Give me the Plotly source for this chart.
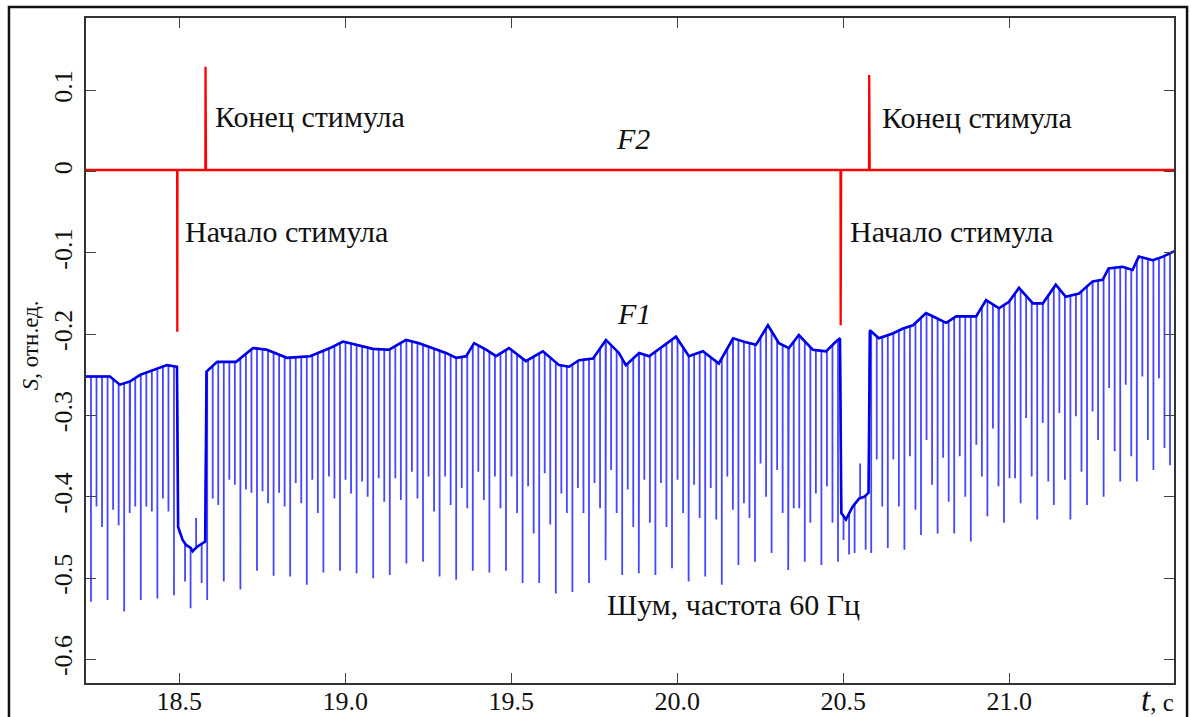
import numpy as np
import plotly.graph_objects as go

# ---------------- data ----------------
# F1: slow component (upper envelope of the blue trace)
f1_base_t = [18.219, 18.291, 18.321, 18.352, 18.382, 18.421, 18.463, 18.493,
             18.4965, 18.510, 18.520, 18.535, 18.540, 18.555, 18.570, 18.578,
             18.582, 18.614, 18.671, 18.722, 18.764, 18.824, 18.894, 18.954, 18.993, 19.034,
             19.083, 19.132, 19.183, 19.222, 19.264, 19.303, 19.334, 19.364, 19.388, 19.424,
             19.454, 19.493, 19.544, 19.595, 19.644, 19.674, 19.704, 19.746, 19.785, 19.824,
             19.845, 19.885, 19.915, 19.957, 19.996, 20.035, 20.077, 20.125, 20.168, 20.207,
             20.237, 20.273, 20.306, 20.336, 20.366, 20.408, 20.448, 20.478, 20.490,
             20.494, 20.508, 20.528, 20.548, 20.563, 20.576,
             20.580, 20.607, 20.649, 20.680, 20.710, 20.749, 20.780, 20.810, 20.840, 20.900,
             20.930, 20.969, 20.999, 21.029, 21.071, 21.101, 21.140, 21.170, 21.210, 21.251,
             21.281, 21.299, 21.341, 21.371, 21.390, 21.432, 21.463, 21.496]
f1_base_v = [-0.252, -0.252, -0.262, -0.258, -0.250, -0.244, -0.238, -0.240,
             -0.437, -0.453, -0.459, -0.463, -0.467, -0.461, -0.457, -0.455,
             -0.246, -0.234, -0.234, -0.217, -0.219, -0.229, -0.227, -0.217, -0.209, -0.213,
             -0.218, -0.219, -0.207, -0.211, -0.217, -0.223, -0.229, -0.227, -0.211, -0.219,
             -0.227, -0.217, -0.233, -0.221, -0.238, -0.240, -0.232, -0.230, -0.207, -0.223,
             -0.238, -0.223, -0.227, -0.215, -0.203, -0.227, -0.221, -0.236, -0.205, -0.210,
             -0.213, -0.189, -0.211, -0.217, -0.201, -0.219, -0.221, -0.209, -0.205,
             -0.420, -0.428, -0.412, -0.402, -0.400, -0.395,
             -0.195, -0.205, -0.199, -0.193, -0.189, -0.174, -0.180, -0.186, -0.178, -0.178,
             -0.158, -0.168, -0.160, -0.143, -0.162, -0.162, -0.139, -0.154, -0.150, -0.135,
             -0.133, -0.119, -0.117, -0.121, -0.1045, -0.109, -0.1045, -0.098]

# F1: 60 Hz mains-noise spikes (extreme value of each spike)
spike_t0 = 18.234      # time of first spike, s
spike_rate = 60.0      # Hz
f1_spike_v = [
    -0.529, -0.412, -0.437, -0.527, -0.416, -0.435, -0.541, -0.420, -0.412, -0.527,
    -0.412, -0.418, -0.525, -0.402, -0.418, -0.521, -0.445, -0.504, -0.537, -0.426,
    -0.506, -0.527, -0.402, -0.410, -0.504, -0.379, -0.385, -0.514, -0.391, -0.395,
    -0.491, -0.393, -0.408, -0.497, -0.395, -0.412, -0.498, -0.383, -0.408,
    -0.508, -0.379, -0.420, -0.493, -0.375, -0.402, -0.491, -0.379, -0.396, -0.494,
    -0.381, -0.400, -0.500, -0.377, -0.406, -0.496, -0.377, -0.404, -0.482, -0.369,
    -0.402, -0.480, -0.375, -0.418, -0.498, -0.375, -0.410, -0.502, -0.389, -0.414,
    -0.491, -0.369, -0.404, -0.493, -0.375, -0.414, -0.491, -0.375, -0.420, -0.506,
    -0.387, -0.445, -0.506, -0.371, -0.434, -0.519, -0.396, -0.420, -0.517, -0.389,
    -0.420, -0.506, -0.383, -0.414, -0.478, -0.367, -0.420, -0.496, -0.391, -0.437,
    -0.494, -0.379, -0.432, -0.496, -0.383, -0.437, -0.488, -0.379, -0.420, -0.504,
    -0.385, -0.426, -0.498, -0.389, -0.428, -0.508, -0.375, -0.416, -0.484, -0.408,
    -0.426, -0.480, -0.359, -0.400, -0.469, -0.367, -0.420, -0.490, -0.414, -0.414,
    -0.480, -0.432, -0.396, -0.484, -0.387, -0.432, -0.480, -0.453, -0.471, -0.469,
    -0.359, -0.465, -0.469, -0.354, -0.412, -0.463, -0.354, -0.412, -0.465, -0.350,
    -0.416, -0.447, -0.330, -0.385, -0.445, -0.352, -0.406, -0.445, -0.350, -0.400,
    -0.455, -0.336, -0.375, -0.424, -0.316, -0.387, -0.432, -0.377, -0.377, -0.408,
    -0.303, -0.375, -0.428, -0.309, -0.381, -0.410, -0.297, -0.379, -0.428, -0.301,
    -0.369, -0.410, -0.295, -0.330, -0.400, -0.266, -0.344, -0.381, -0.262, -0.350,
    -0.381, -0.252, -0.330, -0.367, -0.254, -0.340, -0.361, -0.248]

# F2 (red): flat trace with stimulus start / end artefacts
f2_t = [18.219, 18.4935, 18.494, 18.4945, 18.5785, 18.579, 18.580, 18.5805,
        20.4915, 20.492, 20.493, 20.4935, 20.5775, 20.578, 20.579, 20.5795, 21.496]
f2_v = [0.002, 0.002, -0.197, 0.002, 0.002, 0.129, 0.097, 0.002,
        0.002, -0.189, -0.094, 0.002, 0.002, 0.119, 0.092, 0.002, 0.002]

x_ticks = [18.5, 19.0, 19.5, 20.0, 20.5, 21.0]
x_ticktext = ["18.5", "19.0", "19.5", "20.0", "20.5", "21.0"]
y_ticks = [0.1, 0.0, -0.1, -0.2, -0.3, -0.4, -0.5, -0.6]
y_ticktext = ["0.1", "0", "-0.1", "-0.2", "-0.3", "-0.4", "-0.5", "-0.6"]

# ---------------- build F1 polyline ----------------
spike_t = spike_t0 + np.arange(len(f1_spike_v)) / spike_rate
spike_top = np.interp(spike_t, f1_base_t, f1_base_v)
events = [(t, 0, v) for t, v in zip(f1_base_t, f1_base_v)]
for t, top, bot in zip(spike_t, spike_top, f1_spike_v):
    events += [(t, 1, top), (t, 2, bot), (t, 3, top)]
events.sort(key=lambda e: (e[0], e[1]))
f1_x = [e[0] for e in events]
f1_y = [e[2] for e in events]

SERIF = "Liberation Serif, Times New Roman, serif"

fig = go.Figure()
fig.add_trace(go.Scatter(x=f1_x, y=f1_y, mode="lines",
                         line=dict(color="rgb(70,70,255)", width=1.8),
                         name="F1", showlegend=False, hoverinfo="skip"))
fig.add_trace(go.Scatter(x=f1_base_t, y=f1_base_v, mode="lines",
                         line=dict(color="rgb(0,0,235)", width=2.6),
                         name="F1", showlegend=False, hoverinfo="skip"))
fig.add_trace(go.Scatter(x=f2_t, y=f2_v, mode="lines",
                         line=dict(color="rgb(255,0,0)", width=2.3),
                         name="F2", showlegend=False, hoverinfo="skip"))

axis_common = dict(showgrid=False, zeroline=False, showline=True, automargin=False,
                   linecolor="#333333", linewidth=1.5, mirror="ticks",
                   ticks="inside", ticklen=10, tickwidth=1.3, tickcolor="#444444",
                   tickfont=dict(family=SERIF, size=26, color="#111111"))
fig.update_xaxes(range=[18.219, 21.496], tickmode="array", tickvals=x_ticks,
                 ticktext=x_ticktext, ticklabelstandoff=-6, **axis_common)
fig.update_yaxes(range=[-0.629, 0.189], tickmode="array", tickvals=y_ticks,
                 ticktext=y_ticktext, tickangle=-90, ticklabelstandoff=2, **axis_common)

txt = dict(family=SERIF, size=30, color="#111111")
ann = [
    dict(x=18.6015, y=0.068, text="Конец стимула", xanchor="left"),
    dict(x=20.611, y=0.066, text="Конец стимула", xanchor="left"),
    dict(x=18.512, y=-0.074, text="Начало стимула", xanchor="left"),
    dict(x=20.515, y=-0.074, text="Начало стимула", xanchor="left"),
    dict(x=19.867, y=0.041, text="<i>F2</i>", xanchor="center"),
    dict(x=19.869, y=-0.175, text="<i>F1</i>", xanchor="center"),
    dict(x=19.782, y=-0.533, text="Шум, частота 60 Гц", xanchor="left"),
]
for a in ann:
    fig.add_annotation(xref="x", yref="y", yanchor="middle", showarrow=False,
                       font=txt, **a)

fig.add_annotation(xref="paper", yref="paper", x=-0.0515, y=0.508,
                   text="<i>S</i>, отн.ед.", textangle=-90, showarrow=False,
                   xanchor="center", yanchor="middle",
                   font=dict(family=SERIF, size=23, color="#111111"))
fig.add_annotation(xref="paper", yref="paper", x=1.002, y=-0.026,
                   text="<i style='font-size:33px'>t</i>, с", showarrow=False,
                   xanchor="right", yanchor="middle",
                   font=dict(family=SERIF, size=25, color="#111111"))

# outer frame around the whole picture
fig.add_shape(type="rect", xref="paper", yref="paper",
              x0=-0.0708, x1=1.012, y0=-0.09, y1=1.0166,
              line=dict(color="#111111", width=2.5), layer="above")

fig.update_layout(width=1191, height=717,
                  margin=dict(l=86, r=17, t=18, b=34, autoexpand=False),
                  plot_bgcolor="white", paper_bgcolor="white",
                  showlegend=False)

fig.write_html("out.html", config={"displayModeBar": False},
               post_script="document.body.style.margin='0';")
